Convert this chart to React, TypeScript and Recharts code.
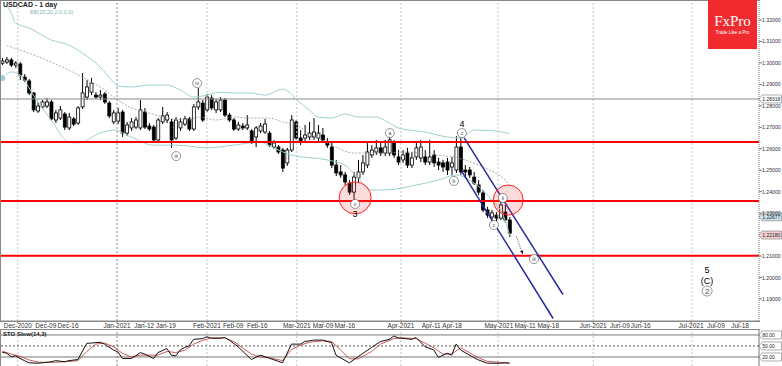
import React from "react";
import { Bar, ComposedChart, Line, ReferenceDot, ReferenceLine, XAxis, YAxis } from "recharts";

const FONT = "'Liberation Sans', Arial, sans-serif";

// daily USDCAD candles, one entry per trading day from late Nov 2020
const opens = [
  1.2999, 1.3004, 1.3014, 1.2990, 1.2995, 1.2934, 1.2916, 1.2860, 1.2776, 1.2795,
  1.2799, 1.2818, 1.2734, 1.2743, 1.2762, 1.2697, 1.2739, 1.2720, 1.2795, 1.2841,
  1.2864, 1.2850, 1.2841, 1.2855, 1.2813, 1.2725, 1.2729, 1.2771, 1.2673, 1.2697,
  1.2701, 1.2697, 1.2771, 1.2706, 1.2701, 1.2641, 1.2725, 1.2734, 1.2725, 1.2650,
  1.2697, 1.2715, 1.2739, 1.2692, 1.2795, 1.2813, 1.2781, 1.2836, 1.2781, 1.2781,
  1.2827, 1.2757, 1.2734, 1.2692, 1.2706, 1.2697, 1.2683, 1.2655, 1.2683, 1.2678,
  1.2673, 1.2608, 1.2608, 1.2594, 1.2534, 1.2594, 1.2725, 1.2650, 1.2650, 1.2655,
  1.2655, 1.2650, 1.2664, 1.2631, 1.2608, 1.2524, 1.2492, 1.2478, 1.2440, 1.2398,
  1.2464, 1.2492, 1.2524, 1.2571, 1.2585, 1.2604, 1.2580, 1.2580, 1.2627, 1.2562,
  1.2548, 1.2580, 1.2524, 1.2562, 1.2557, 1.2562, 1.2538, 1.2571, 1.2538, 1.2534,
  1.2538, 1.2515, 1.2501, 1.2608, 1.2501, 1.2501, 1.2468, 1.2431, 1.2394, 1.2315,
  1.2282, 1.2291, 1.2277, 1.2305, 1.2268,
];
const highs = [
  1.3023, 1.3028, 1.3023, 1.3009, 1.3004, 1.2948, 1.2925, 1.2864, 1.2818, 1.2827,
  1.2836, 1.2827, 1.2781, 1.2799, 1.2771, 1.2767, 1.2748, 1.2799, 1.2953, 1.2920,
  1.2930, 1.2864, 1.2874, 1.2864, 1.2822, 1.2781, 1.2790, 1.2781, 1.2725, 1.2743,
  1.2748, 1.2827, 1.2790, 1.2720, 1.2711, 1.2743, 1.2795, 1.2771, 1.2739, 1.2748,
  1.2743, 1.2753, 1.2748, 1.2809, 1.2883, 1.2827, 1.2855, 1.2850, 1.2832, 1.2841,
  1.2836, 1.2767, 1.2743, 1.2725, 1.2720, 1.2757, 1.2692, 1.2706, 1.2720, 1.2739,
  1.2683, 1.2641, 1.2617, 1.2604, 1.2604, 1.2757, 1.2734, 1.2687, 1.2711, 1.2725,
  1.2743, 1.2711, 1.2697, 1.2650, 1.2627, 1.2548, 1.2524, 1.2492, 1.2454, 1.2492,
  1.2548, 1.2571, 1.2627, 1.2617, 1.2641, 1.2627, 1.2641, 1.2659, 1.2641, 1.2594,
  1.2594, 1.2604, 1.2585, 1.2627, 1.2641, 1.2594, 1.2641, 1.2594, 1.2557, 1.2548,
  1.2557, 1.2562, 1.2659, 1.2664, 1.2524, 1.2515, 1.2492, 1.2454, 1.2408, 1.2329,
  1.2315, 1.2305, 1.2375, 1.2338, 1.2282,
];
const lows = [
  1.2990, 1.2995, 1.2981, 1.2976, 1.2920, 1.2911, 1.2850, 1.2771, 1.2767, 1.2785,
  1.2790, 1.2729, 1.2720, 1.2734, 1.2687, 1.2687, 1.2706, 1.2711, 1.2785, 1.2827,
  1.2850, 1.2832, 1.2827, 1.2809, 1.2743, 1.2715, 1.2715, 1.2655, 1.2659, 1.2683,
  1.2692, 1.2687, 1.2692, 1.2683, 1.2631, 1.2627, 1.2715, 1.2720, 1.2604, 1.2641,
  1.2683, 1.2706, 1.2683, 1.2683, 1.2781, 1.2725, 1.2771, 1.2781, 1.2767, 1.2771,
  1.2748, 1.2725, 1.2683, 1.2683, 1.2687, 1.2687, 1.2622, 1.2608, 1.2673, 1.2669,
  1.2608, 1.2599, 1.2576, 1.2492, 1.2520, 1.2585, 1.2641, 1.2617, 1.2636, 1.2641,
  1.2641, 1.2631, 1.2627, 1.2604, 1.2510, 1.2473, 1.2464, 1.2431, 1.2385, 1.2361,
  1.2445, 1.2478, 1.2510, 1.2557, 1.2571, 1.2566, 1.2566, 1.2566, 1.2557, 1.2524,
  1.2534, 1.2510, 1.2510, 1.2548, 1.2538, 1.2524, 1.2524, 1.2515, 1.2501, 1.2492,
  1.2478, 1.2478, 1.2487, 1.2478, 1.2468, 1.2464, 1.2431, 1.2385, 1.2305, 1.2277,
  1.2240, 1.2263, 1.2268, 1.2254, 1.2189,
];
const closes = [
  1.3009, 1.3014, 1.2990, 1.2999, 1.2944, 1.2920, 1.2860, 1.2781, 1.2799, 1.2818,
  1.2818, 1.2739, 1.2767, 1.2781, 1.2701, 1.2748, 1.2715, 1.2790, 1.2860, 1.2888,
  1.2906, 1.2841, 1.2850, 1.2818, 1.2753, 1.2767, 1.2767, 1.2673, 1.2711, 1.2725,
  1.2734, 1.2781, 1.2701, 1.2692, 1.2641, 1.2734, 1.2753, 1.2757, 1.2641, 1.2734,
  1.2725, 1.2739, 1.2692, 1.2795, 1.2818, 1.2734, 1.2841, 1.2790, 1.2818, 1.2827,
  1.2757, 1.2734, 1.2692, 1.2711, 1.2697, 1.2711, 1.2631, 1.2697, 1.2706, 1.2715,
  1.2617, 1.2627, 1.2585, 1.2510, 1.2594, 1.2734, 1.2650, 1.2631, 1.2664, 1.2673,
  1.2678, 1.2673, 1.2641, 1.2617, 1.2524, 1.2487, 1.2478, 1.2445, 1.2398, 1.2468,
  1.2492, 1.2534, 1.2585, 1.2594, 1.2604, 1.2580, 1.2608, 1.2641, 1.2571, 1.2538,
  1.2571, 1.2524, 1.2557, 1.2604, 1.2608, 1.2538, 1.2562, 1.2534, 1.2524, 1.2515,
  1.2501, 1.2534, 1.2608, 1.2492, 1.2492, 1.2478, 1.2440, 1.2398, 1.2315, 1.2291,
  1.2301, 1.2277, 1.2338, 1.2268, 1.2207,
];

// Bollinger bands: [bar, price]
const bbUpper: [number, number][] = [
  [1, 1.3270], [2, 1.3233], [3, 1.3186], [6, 1.3163], [11, 1.3107], [15, 1.3083], [18, 1.3046],
  [22, 1.2981], [25, 1.2911], [26, 1.2892], [29, 1.2888], [33, 1.2897], [37, 1.2897], [40, 1.2874],
  [43, 1.2841], [46, 1.2850], [49, 1.2864], [52, 1.2860], [56, 1.2860], [59, 1.2850], [63, 1.2878],
  [65, 1.2855], [66, 1.2832], [69, 1.2781], [71, 1.2748], [74, 1.2743], [77, 1.2762], [80, 1.2748],
  [84, 1.2748], [87, 1.2720], [89, 1.2697], [95, 1.2678], [100, 1.2655], [103, 1.2650],
  [106, 1.2687], [111, 1.2683], [114, 1.2669],
];
const bbMiddle: [number, number][] = [
  [1, 1.3080], [4, 1.3060], [11, 1.3004], [18, 1.2934], [22, 1.2888], [26, 1.2827], [29, 1.2790],
  [33, 1.2767], [37, 1.2743], [42, 1.2734], [44, 1.2748], [48, 1.2734], [52, 1.2748], [56, 1.2743],
  [60, 1.2743], [63, 1.2725], [66, 1.2711], [69, 1.2673], [74, 1.2617], [79, 1.2580], [86, 1.2580],
  [91, 1.2585], [97, 1.2571], [101, 1.2562], [104, 1.2548], [108, 1.2515], [113, 1.2454], [114, 1.2431],
];
const bbLower: [number, number][] = [
  [0, 1.2930], [2, 1.2958], [4, 1.2944], [7, 1.2850], [11, 1.2734], [15, 1.2631], [17, 1.2627],
  [22, 1.2673], [25, 1.2687], [29, 1.2655], [34, 1.2617], [39, 1.2617], [46, 1.2604], [52, 1.2617],
  [58, 1.2631], [61, 1.2604], [65, 1.2571], [73, 1.2548], [77, 1.2524], [80, 1.2464], [83, 1.2408],
  [86, 1.2408], [93, 1.2431], [98, 1.2454], [102, 1.2478], [105, 1.2454], [110, 1.2361],
  [113, 1.2268], [114, 1.2198],
];

// stochastic slow(14,3): [bar, value]
const stochK: [number, number][] = [
  [0, 33], [1, 30], [2, 21], [3, 23], [4, 16], [5, 10], [6, 4], [8, 3], [9, 4], [11, 7], [12, 10],
  [14, 7], [15, 10], [17, 13], [19, 57], [22, 60], [23, 55], [25, 39], [26, 34], [27, 16], [29, 16],
  [30, 23], [31, 32], [32, 28], [34, 16], [35, 32], [37, 43], [38, 25], [39, 23], [40, 39], [41, 46],
  [42, 50], [43, 68], [45, 70], [46, 75], [47, 71], [49, 71], [50, 73], [51, 66], [53, 48], [56, 13],
  [58, 25], [59, 21], [63, 4], [65, 55], [67, 55], [68, 62], [70, 66], [72, 66], [74, 59], [75, 25],
  [78, 4], [80, 21], [83, 46], [85, 62], [87, 68], [88, 77], [89, 72], [92, 68], [93, 73], [95, 48],
  [97, 39], [98, 19], [100, 30], [101, 25], [102, 55], [103, 39], [105, 25], [107, 12], [109, 3],
  [112, 3], [113, 4], [114, 3],
];
const stochD: [number, number][] = [
  [0, 36], [2, 28], [4, 22], [6, 12], [8, 6], [11, 5], [14, 7], [17, 10], [19, 35], [21, 55],
  [23, 58], [25, 48], [27, 30], [29, 20], [31, 25], [33, 25], [35, 25], [37, 35], [39, 32], [41, 38],
  [43, 55], [45, 65], [47, 72], [50, 72], [52, 62], [54, 45], [56, 28], [58, 20], [60, 18], [63, 10],
  [65, 40], [67, 52], [69, 60], [72, 64], [74, 62], [76, 40], [78, 15], [80, 15], [83, 35], [85, 55],
  [88, 70], [90, 72], [93, 70], [95, 58], [97, 45], [99, 28], [101, 28], [103, 45], [105, 32],
  [107, 18], [109, 8], [112, 5], [114, 4],
];

const dateLabels = [
  "Dec-2020", "Dec-09", "Dec-16", "Jan-2021", "Jan-12", "Jan-19", "Feb-2021", "Feb-09", "Feb-16",
  "Mar-2021", "Mar-09", "Mar-16", "Apr-2021", "Apr-11", "Apr-18", "May-2021", "May-11", "May-18",
  "Jun-2021", "Jun-09", "Jun-16", "Jul-2021", "Jul-09", "Jul-18",
];
const dateTicks = [
  3.5, 9.8, 14.8, 25.8, 31.9, 36.8, 46.0, 51.9, 57.3, 66.2, 72.1, 77.0, 89.6, 96.4, 101.1,
  111.6, 117.5, 122.7, 132.8, 138.8, 143.5, 154.8, 160.4, 165.8,
];
const monthStarts = [3.5, 25.8, 46.0, 66.2, 89.6, 111.4, 132.8, 155.0];
const priceTicks = [1.19, 1.2, 1.21, 1.23, 1.24, 1.25, 1.26, 1.27, 1.28, 1.29, 1.3, 1.31, 1.32];
const levels = [1.2631, 1.2357, 1.2102];
const greyLevel = 1.2832;

const channelUpper = [{ x: 103.8, y: 1.2651 }, { x: 126.0, y: 1.1921 }];
const channelLower = [{ x: 103.3, y: 1.2493 }, { x: 123.8, y: 1.1809 }];
const arrowPath = [{ x: 115.5, y: 1.2193 }, { x: 117.0, y: 1.2109 }];

const zones = [
  { i: 79.3, p: 1.2371, r: 16 },
  { i: 113.7, p: 1.2361, r: 15 },
];
const waveMarks = [
  { i: 43.8, p: 1.2906, t: "iv" },
  { i: 39.1, p: 1.2566, t: "iii" },
  { i: 79.3, p: 1.2343, t: "v" },
  { i: 87.1, p: 1.2673, t: "a" },
  { i: 103.3, p: 1.2673, t: "c" },
  { i: 101.5, p: 1.245, t: "b" },
  { i: 110.5, p: 1.2245, t: "c" },
  { i: 112.5, p: 1.2371, t: "ii" },
  { i: 119.5, p: 1.2086, t: "iii" },
];
const waveText = [
  { i: 79.3, p: 1.2296, t: "3" },
  { i: 103.3, p: 1.2715, t: "4" },
  { i: 158.4, p: 1.2035, t: "5" },
  { i: 158.4, p: 1.1986, t: "(C)" },
];
const bigMark = { i: 158.4, p: 1.1937, t: "2" };

const X_DOMAIN: [number, number] = [-0.5, 170.06];
const Y_DOMAIN: [number, number] = [1.17974, 1.32932];

const toMap = (pairs: [number, number][]) => new Map(pairs);
const upMap = toMap(bbUpper);
const midMap = toMap(bbMiddle);
const lowMap = toMap(bbLower);
const kMap = toMap(stochK);
const dMap = toMap(stochD);

const rows = opens.map((o, i) => ({
  i,
  open: o,
  high: highs[i],
  low: lows[i],
  close: closes[i],
  range: [lows[i], highs[i]],
  up: upMap.get(i) ?? null,
  mid: midMap.get(i) ?? null,
  lo: lowMap.get(i) ?? null,
}));

const stochRows = opens.map((_, i) => ({ i, k: kMap.get(i) ?? null, d: dMap.get(i) ?? null }));

const Candle = (props: any) => {
  const { x, y, width, height, payload } = props;
  const top0 = Math.min(y, y + height);
  const h = Math.abs(height);
  const span = payload.high - payload.low || 1e-9;
  const py = (p: number) => top0 + ((payload.high - p) / span) * h;
  const cx = x + width / 2;
  const bull = payload.close >= payload.open;
  const bt = py(Math.max(payload.open, payload.close));
  const bb = py(Math.min(payload.open, payload.close));
  return (
    <g>
      <line x1={cx} x2={cx} y1={top0} y2={top0 + h} stroke="#000" strokeWidth={1} />
      <rect
        x={x}
        y={bt}
        width={width}
        height={Math.max(bb - bt, 1)}
        fill={bull ? "#fff" : "#000"}
        stroke="#000"
        strokeWidth={0.8}
      />
    </g>
  );
};

const DateTick = (props: any) => {
  const { x, payload } = props;
  const idx = dateTicks.indexOf(payload.value);
  return (
    <g>
      <line x1={x} x2={x} y1={321} y2={323} stroke="#777" />
      <text x={x} y={327.5} textAnchor="middle" fontSize={6.5} fill="#333" fontFamily={FONT}>
        {dateLabels[idx]}
      </text>
    </g>
  );
};

const PriceTick = (props: any) => {
  const { y, payload } = props;
  return (
    <text x={762} y={y + 2} fontSize={5.2} fill="#333" fontFamily={FONT}>
      {payload.value.toFixed(5)}
    </text>
  );
};

const Tag = ({ viewBox, text, fill }: any) => {
  if (!viewBox) return null;
  const x = viewBox.x + viewBox.width;
  const y = viewBox.y;
  const w = Math.min(19.5, 781.5 - x - 3);
  return (
    <g>
      <path d={`M${x} ${y} l3 -4 h${w} v8 h-${w} z`} fill={fill} stroke="#777" strokeWidth={0.6} />
      <text x={x + 3.3} y={y + 1.9} fontSize={5} fill="#222" fontFamily={FONT}>
        {text}
      </text>
    </g>
  );
};

const circleMark = (t: string, r: number, fs: number) => (p: any) => (
  <g>
    <circle cx={p.cx} cy={p.cy} r={r} fill="#fff" stroke="#666" strokeWidth={0.7} />
    <text x={p.cx} y={p.cy + fs * 0.35} textAnchor="middle" fontSize={fs} fill="#444" fontFamily={FONT}>
      {t}
    </text>
  </g>
);

const plainText = (t: string) => (p: any) => (
  <text x={p.cx} y={p.cy + 3} textAnchor="middle" fontSize={9} fill="#000" stroke="none" fontFamily={FONT}>
    {t}
  </text>
);

const zoneShape = (r: number) => (p: any) => (
  <circle cx={p.cx} cy={p.cy} r={r} fill="rgba(255,60,60,0.18)" stroke="#ff2020" strokeWidth={1} />
);

const arrowShape = (p: any) => {
  const { x1, y1, x2, y2 } = p;
  const a = Math.atan2(y2 - y1, x2 - x1);
  const s = 4;
  const l = `${x2 - s * Math.cos(a - 0.45)},${y2 - s * Math.sin(a - 0.45)}`;
  const rr = `${x2 - s * Math.cos(a + 0.45)},${y2 - s * Math.sin(a + 0.45)}`;
  return (
    <g>
      <line x1={x1} y1={y1} x2={x2} y2={y2} stroke="#555" strokeWidth={0.8} strokeDasharray="1.5 1" />
      <polygon points={`${x2},${y2} ${l} ${rr}`} fill="#222" />
    </g>
  );
};

export default function App() {
  return (
    <div style={{ position: "absolute", left: 0, top: 0, width: 782, height: 366, background: "#fff", overflow: "hidden", fontFamily: FONT }}>
      <ComposedChart width={782} height={330} data={rows} margin={{ top: 0, right: 0, bottom: 0, left: 0 }}>
        <XAxis
          dataKey="i"
          type="number"
          domain={X_DOMAIN}
          allowDataOverflow
          ticks={dateTicks}
          interval={0}
          tick={<DateTick />}
          tickLine={false}
          axisLine={{ stroke: "#888" }}
          height={9}
        />
        <YAxis
          orientation="right"
          width={23}
          domain={Y_DOMAIN}
          allowDataOverflow
          ticks={priceTicks}
          interval={0}
          tick={<PriceTick />}
          tickSize={3}
          tickLine={{ stroke: "#777" }}
          axisLine={{ stroke: "#777", strokeDasharray: "1 1" }}
        />
        {monthStarts.map((m, k) => (
          <ReferenceLine key={`g${k}`} x={m} stroke={k === 1 ? "#888" : "#c4c4c4"} strokeDasharray="2 2" />
        ))}
        <ReferenceLine y={greyLevel} stroke="#888" strokeWidth={1} label={<Tag text="1.28318" fill="#fff" />} />
        <ReferenceLine y={1.2283} stroke="none" label={<Tag text="1.22677" fill="#cfe3ef" />} />
        <ReferenceLine y={1.2198} stroke="none" label={<Tag text="1.22180" fill="#f4d0d0" />} />
        <Line dataKey="up" stroke="#9fcfcf" strokeWidth={1} dot={false} connectNulls isAnimationActive={false} type="monotone" />
        <Line dataKey="lo" stroke="#9fcfcf" strokeWidth={1} dot={false} connectNulls isAnimationActive={false} type="monotone" />
        <Line dataKey="mid" stroke="#999" strokeWidth={0.8} strokeDasharray="2 1.5" dot={false} connectNulls isAnimationActive={false} type="monotone" />
        <Bar dataKey="range" barSize={3} shape={<Candle />} isAnimationActive={false} />
        {levels.map((lv) => (
          <ReferenceLine key={lv} y={lv} stroke="#ff0000" strokeWidth={2} />
        ))}
        <ReferenceLine segment={channelUpper} stroke="#2a2aa0" strokeWidth={1.5} ifOverflow="visible" />
        <ReferenceLine segment={channelLower} stroke="#2a2aa0" strokeWidth={1.5} ifOverflow="visible" />
        <ReferenceLine segment={arrowPath} shape={arrowShape} ifOverflow="visible" />
        {zones.map((z, k) => (
          <ReferenceDot key={`z${k}`} x={z.i} y={z.p} r={z.r} shape={zoneShape(z.r)} />
        ))}
        {waveMarks.map((w, k) => (
          <ReferenceDot key={`w${k}`} x={w.i} y={w.p} r={4.5} shape={circleMark(w.t, 4.5, 5)} />
        ))}
        {waveText.map((w, k) => (
          <ReferenceDot key={`t${k}`} x={w.i} y={w.p} r={1} shape={plainText(w.t)} />
        ))}
        <ReferenceDot x={bigMark.i} y={bigMark.p} r={5} shape={circleMark(bigMark.t, 5, 8)} />
      </ComposedChart>

      <div style={{ position: "absolute", left: 0, top: 329 }}>
        <ComposedChart width={782} height={37} data={stochRows} margin={{ top: 0, right: 0, bottom: 0, left: 0 }}>
          <XAxis dataKey="i" type="number" domain={X_DOMAIN} allowDataOverflow hide />
          <YAxis orientation="right" width={23} domain={[-4.6, 96.2]} allowDataOverflow ticks={[]} tick={false} axisLine={{ stroke: "#777" }} />
          {monthStarts.map((m, k) => (
            <ReferenceLine key={`sg${k}`} x={m} stroke={k === 1 ? "#888" : "#c4c4c4"} strokeDasharray="2 2" />
          ))}
          <ReferenceLine y={80} stroke="#777" label={<Tag text="80.00" fill="#fff" />} />
          <ReferenceLine y={50} stroke="#555" strokeDasharray="2 2" label={<Tag text="50.00" fill="#fff" />} />
          <ReferenceLine y={20} stroke="#777" label={<Tag text="20.00" fill="#fff" />} />
          <Line dataKey="d" stroke="#c03030" strokeWidth={0.8} dot={false} connectNulls isAnimationActive={false} />
          <Line dataKey="k" stroke="#111" strokeWidth={1} dot={false} connectNulls isAnimationActive={false} />
        </ComposedChart>
      </div>

      <div style={{ position: "absolute", left: 0, top: 0, width: 760, height: 322, border: "1px solid #888", borderRight: "none", boxSizing: "border-box", pointerEvents: "none" }} />
      <div style={{ position: "absolute", left: 0, top: 329, width: 760, height: 37, borderTop: "1px solid #888", borderLeft: "1px solid #888", boxSizing: "border-box", pointerEvents: "none" }} />

      <div style={{ position: "absolute", left: 3, top: 1, fontSize: 7, fontWeight: 700, color: "#222" }}>USDCAD - 1 day</div>
      <div style={{ position: "absolute", left: 30, top: 9, fontSize: 5.5, color: "#7fb3b3" }}>BB(20,20,2.0,0,0)</div>
      <div style={{ position: "absolute", left: 3, top: 331, fontSize: 6, fontWeight: 700, color: "#222" }}>STO Slow(14,3)</div>

      <div style={{ position: "absolute", left: 708, top: 0, width: 49, height: 49, background: "#f02a2e", color: "#fff", textAlign: "center" }}>
        <div style={{ fontFamily: "'Liberation Serif', 'DejaVu Serif', serif", fontSize: 15, marginTop: 14, lineHeight: "15px" }}>FxPro</div>
        <div style={{ fontSize: 4.6, marginTop: 1, lineHeight: "6px" }}>Trade Like a Pro</div>
      </div>
    </div>
  );
}
